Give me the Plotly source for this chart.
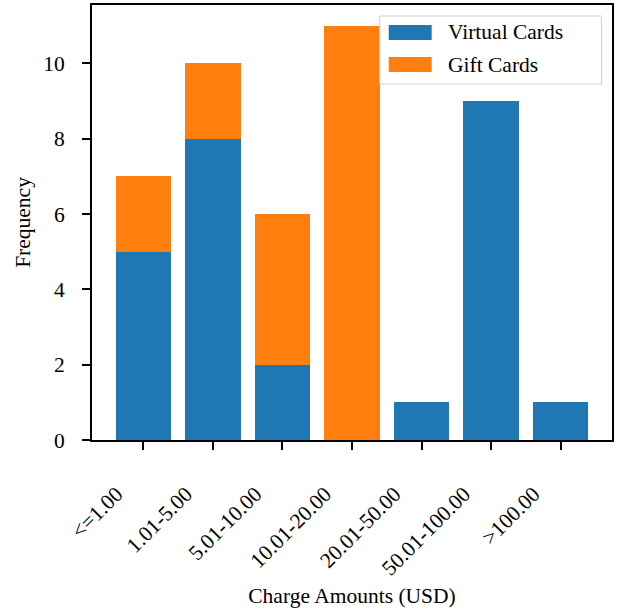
import plotly.graph_objects as go

categories = ["<=1.00", "1.01-5.00", "5.01-10.00", "10.01-20.00",
              "20.01-50.00", "50.01-100.00", ">100.00"]
virtual_cards = [5, 8, 2, 0, 1, 9, 1]
gift_cards = [2, 2, 4, 11, 0, 0, 0]
series_names = ["Virtual Cards", "Gift Cards"]
series_colors = ["#1f77b4", "#ff7f0e"]
y_ticks = [0, 2, 4, 6, 8, 10]

FONT = "Liberation Serif, Times New Roman, serif"
FS = 21.5

fig = go.Figure()
for name, vals, col in zip(series_names, [virtual_cards, gift_cards], series_colors):
    fig.add_trace(go.Bar(x=categories, y=vals, name=name, marker_color=col,
                         marker_line_width=0, showlegend=False))

# custom legend (matplotlib style)
fig.add_shape(type="rect", xref="paper", yref="paper",
              x0=(380 - 92) / 520.5, x1=(602 - 92) / 520.5,
              y0=(440 - 84) / 435, y1=(440 - 16) / 435,
              line=dict(color="#d0d0d0", width=1), fillcolor="rgba(255,255,255,0.8)",
              layer="above")
for i, (name, col) in enumerate(zip(series_names, series_colors)):
    yc = 32.5 + i * 32
    fig.add_shape(type="rect", xref="paper", yref="paper",
                  x0=(389 - 92) / 520.5, x1=(432 - 92) / 520.5,
                  y0=(440 - yc - 7.5) / 435, y1=(440 - yc + 7.5) / 435,
                  line=dict(width=0), fillcolor=col, layer="above")
    fig.add_annotation(xref="paper", yref="paper", x=(446 - 92) / 520.5,
                       y=(440 - yc) / 435, text=name, showarrow=False,
                       xanchor="left", yanchor="middle",
                       font=dict(family=FONT, size=FS, color="#000"))

fig.update_layout(
    width=618, height=614,
    margin=dict(l=92, r=5.5, t=5, b=174),
    barmode="stack", bargap=0.2,
    plot_bgcolor="white", paper_bgcolor="white",
    font=dict(family=FONT, size=FS, color="#000"),
)
fig.update_xaxes(
    type="category", range=[-0.74, 6.74], automargin=False,
    showline=True, linecolor="black", linewidth=2, mirror=True,
    ticks="outside", ticklen=8, tickwidth=2, tickcolor="black",
    tickangle=-45, tickfont=dict(family=FONT, size=FS),
    ticklabelshift=-27, ticklabelstandoff=23,
    title=dict(text="Charge Amounts (USD)", font=dict(family=FONT, size=FS), standoff=9),
    showgrid=False,
)
fig.update_yaxes(
    range=[0, 11.55], tickvals=y_ticks, automargin=False,
    showline=True, linecolor="black", linewidth=2, mirror=True,
    ticks="outside", ticklen=8, tickwidth=2, tickcolor="black",
    tickfont=dict(family=FONT, size=FS), ticklabelstandoff=13,
    title=dict(text="Frequency", font=dict(family=FONT, size=FS), standoff=7),
    showgrid=False, zeroline=False,
)
fig.write_html("out.html", config={"displayModeBar": False},
               post_script="document.body.style.margin='0';")
